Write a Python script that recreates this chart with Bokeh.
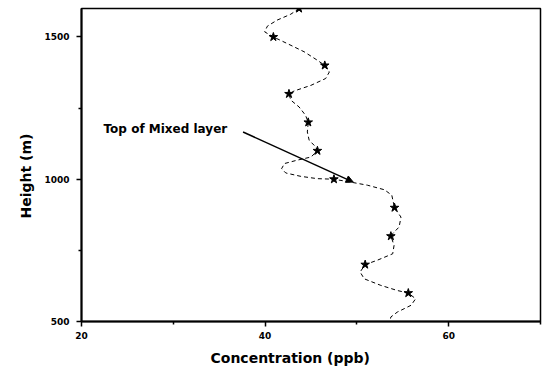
import numpy as np
from bokeh.plotting import figure
from bokeh.models import Range1d, FixedTicker, Label, Arrow, NormalHead, ColumnDataSource, Title
from bokeh.embed import file_html
from bokeh.resources import INLINE

# Star markers: measured concentration at each height
heights = [600, 700, 800, 900, 1000, 1100, 1200, 1300, 1400, 1500, 1600]
conc = [55.6, 50.9, 53.7, 54.1, 47.5, 45.7, 44.7, 42.6, 46.5, 40.9, 43.7]

# Dashed profile curve (top to bottom)
curve_conc = [43.7, 42.8, 41.3, 40.25, 39.95, 40.9, 42.4, 44.25, 45.7, 46.5, 47.0, 46.6,
              45.0, 43.15, 42.6, 42.8, 43.7, 44.4, 44.7, 44.6, 44.8, 45.5, 45.7, 45.0,
              43.5, 42.1, 41.8, 42.25, 43.9, 45.7, 47.5, 49.3, 51.15, 53.0, 53.8, 54.1,
              54.8, 54.6, 53.9, 53.7, 54.05, 53.9, 52.2, 50.9, 50.35, 50.8, 52.6, 54.4,
              55.6, 56.4, 55.9, 54.4, 53.7, 53.6]
curve_height = [1600, 1580, 1559, 1538, 1518, 1500, 1477, 1448, 1418, 1400, 1377, 1354,
                1330, 1310, 1300, 1278, 1254, 1225, 1200, 1166, 1137, 1114, 1100, 1078,
                1067, 1055, 1037, 1022, 1010, 1002, 1000, 990, 979, 963, 944, 900,
                867, 832, 809, 800, 768, 738, 715, 700, 674, 650, 627, 609,
                600, 580, 557, 533, 516, 500]

x_ticks = [20, 40, 60]
x_minor = [30, 50, 70]
y_ticks = [500, 1000, 1500]
y_minor = [750, 1250]

annotation_text = "Top of Mixed layer"
x_label = "Concentration (ppb)"
y_label = "Height (m)"

FONT = "DejaVu Sans"

p = figure(width=545, height=371, output_backend="svg", toolbar_location=None,
           x_range=Range1d(20, 70), y_range=Range1d(500, 1600),
           min_border_left=81, min_border_right=5, min_border_top=8, min_border_bottom=50)
p.xgrid.visible = False
p.ygrid.visible = False
p.background_fill_color = "white"
p.border_fill_color = "white"
p.outline_line_color = "black"
p.outline_line_width = 1.5
p.outline_line_alpha = 1.0

for ax, ticks, minor in ((p.xaxis[0], x_ticks, x_minor), (p.yaxis[0], y_ticks, y_minor)):
    ax.ticker = FixedTicker(ticks=ticks, minor_ticks=minor)
    ax.axis_line_width = 2
    ax.axis_line_color = "black"
    ax.major_tick_line_color = "black"
    ax.major_tick_line_width = 1.5
    ax.major_tick_out = 5
    ax.major_tick_in = 0
    ax.minor_tick_line_color = "black"
    ax.minor_tick_line_width = 1.5
    ax.minor_tick_out = 3
    ax.minor_tick_in = 0
    ax.major_label_text_font = FONT
    ax.major_label_text_font_style = "bold"
    ax.major_label_text_font_size = "9px"
    ax.major_label_text_color = "black"

p.xaxis.major_label_standoff = 5
p.yaxis.major_label_standoff = 7

src_curve = ColumnDataSource(dict(x=curve_conc, y=curve_height))
p.line("x", "y", source=src_curve, line_color="black", line_width=1, line_dash="4 3")

src_pts = ColumnDataSource(dict(x=conc, y=heights))
p.scatter("x", "y", source=src_pts, marker="star", size=9, fill_color="black",
          line_color="black")

p.add_layout(Arrow(end=NormalHead(size=7, fill_color="black", line_color="black"),
                   x_start=37.6, y_start=1166, x_end=49.6, y_end=990,
                   line_color="black", line_width=1.5))

p.add_layout(Label(x=22.4, y=1178, text=annotation_text, text_font=FONT,
                   text_font_style="bold", text_font_size="12px", text_color="black",
                   text_baseline="alphabetic", text_align="left"))

p.add_layout(Title(text=x_label, align="left", offset=129, standoff=12,
                   text_font=FONT, text_font_style="bold", text_font_size="14px",
                   text_color="black"), "below")
p.add_layout(Title(text=y_label, align="left", offset=103, standoff=15,
                   text_font=FONT, text_font_style="bold", text_font_size="14px",
                   text_color="black"), "left")

open("out.html", "w").write(file_html(p, INLINE))
